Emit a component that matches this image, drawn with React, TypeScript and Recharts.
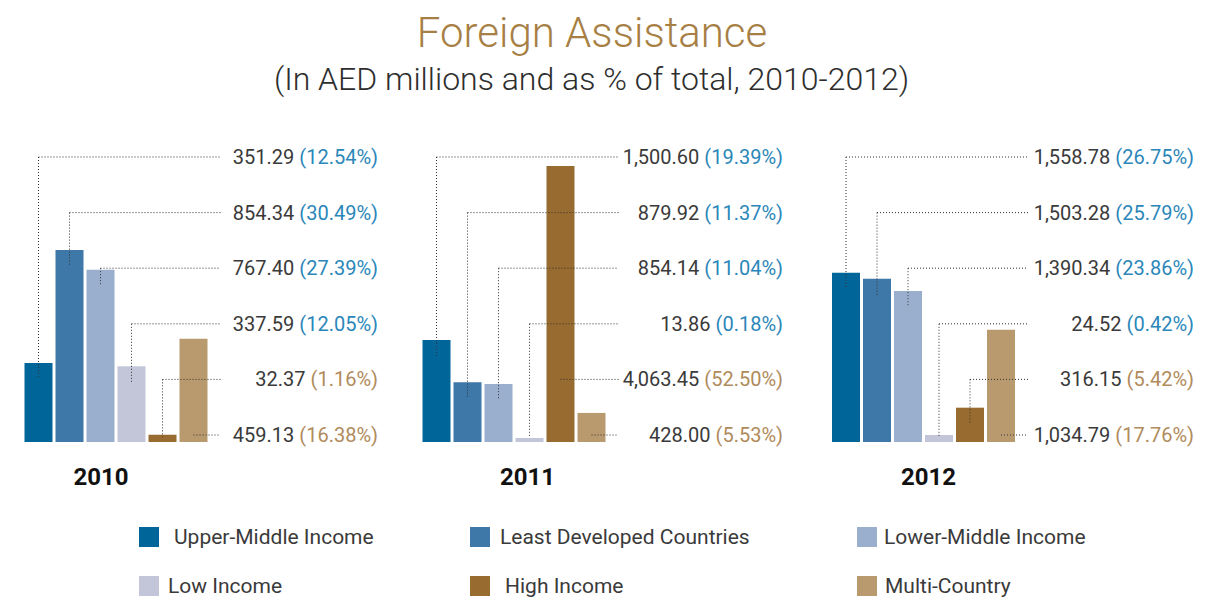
import React from 'react'
import { BarChart, Bar, XAxis, YAxis, Cell, LabelList } from 'recharts'

// categories, left-to-right bar order (same order as the labels top-to-bottom)
const categories = [
  'Upper-Middle Income',
  'Least Developed Countries',
  'Lower-Middle Income',
  'Low Income',
  'High Income',
  'Multi-Country',
]

const barColors = ['#006699', '#3d78a8', '#9aafce', '#c3c6d8', '#986c30', '#b89a6e']
const shareColors = ['#2b87b9', '#2b87b9', '#2b87b9', '#2b87b9', '#b08b5c', '#b08b5c']

const years = ['2010', '2011', '2012']

// AED millions
const values2010 = [351.29, 854.34, 767.4, 337.59, 32.37, 459.13]
const values2011 = [1500.6, 879.92, 854.14, 13.86, 4063.45, 428.0]
const values2012 = [1558.78, 1503.28, 1390.34, 24.52, 316.15, 1034.79]

// % of total
const shares2010 = [12.54, 30.49, 27.39, 12.05, 1.16, 16.38]
const shares2011 = [19.39, 11.37, 11.04, 0.18, 52.5, 5.53]
const shares2012 = [26.75, 25.79, 23.86, 0.42, 5.42, 17.76]

// each year has its own scale in the original
const axisMax = [1300, 4300, 2690]

const FONT = 'Roboto, "Noto Sans", sans-serif'
const TEXT = '#3a3a3a'

const CHART_TOP = 130
const CHART_H = 320
const PLOT_TOP = 20
const PLOT_H = 292
const PLOT_W = 186
const ROW0 = 27
const ROW_STEP = 55.6

const fmt = (v: number) =>
  v.toLocaleString('en-US', { minimumFractionDigits: 2, maximumFractionDigits: 2 })

type PanelProps = {
  values: number[]
  shares: number[]
  max: number
  left: number
  plotLeft: number
  textRight: number
  minBar: number
}

function Panel({ values, shares, max, left, plotLeft, textRight, minBar }: PanelProps) {
  const data = categories.map((name, i) => ({ name, value: values[i], share: shares[i] }))
  const width = 400
  const lineEnd = plotLeft + PLOT_W + 12
  const baseline = PLOT_TOP + PLOT_H

  const Leader = (props: any) => {
    const i = props.index
    const vb = props.viewBox || props
    const top = Math.min(vb.y, vb.y + vb.height)
    const cx = vb.x + vb.width / 2
    const rowY = ROW0 + i * ROW_STEP
    const horizontalOnly = rowY > top + 5
    const dropEnd = Math.min(top + 16, baseline - 5)
    return (
      <g>
        {!horizontalOnly && (
          <line x1={cx} y1={rowY} x2={cx} y2={dropEnd} stroke="#333" strokeWidth={1} strokeDasharray="1 2" />
        )}
        <line x1={cx} y1={rowY} x2={lineEnd} y2={rowY} stroke="#333" strokeWidth={1} strokeDasharray="1 2" />
        <text x={textRight} y={rowY + 7} textAnchor="end" fontFamily={FONT} fontSize={20} fill={TEXT}>
          {fmt(data[i].value)}
          <tspan fill={shareColors[i]}>{` (${data[i].share.toFixed(2)}%)`}</tspan>
        </text>
      </g>
    )
  }

  return (
    <div style={{ position: 'absolute', left, top: CHART_TOP }}>
      <BarChart
        width={width}
        height={CHART_H}
        data={data}
        margin={{ top: PLOT_TOP, bottom: CHART_H - PLOT_TOP - PLOT_H, left: plotLeft, right: width - plotLeft - PLOT_W }}
      >
        <XAxis dataKey="name" hide />
        <YAxis hide domain={[0, max]} />
        <Bar dataKey="value" barSize={28} minPointSize={minBar} isAnimationActive={false}>
          {data.map((d, i) => (
            <Cell key={d.name} fill={barColors[i]} />
          ))}
          <LabelList dataKey="value" content={Leader} />
        </Bar>
      </BarChart>
    </div>
  )
}

const legendX = [139, 470, 857]
const legendGap = [15, 10, 7, 9, 15, 8]

export default function App() {
  const panels = [
    { values: values2010, shares: shares2010, left: 0, plotLeft: 22.5, textRight: 378, minBar: 0, yearX: 101 },
    { values: values2011, shares: shares2011, left: 400, plotLeft: 20.5, textRight: 383, minBar: 4, yearX: 527.5 },
    { values: values2012, shares: shares2012, left: 805, plotLeft: 25, textRight: 389, minBar: 7, yearX: 928.5 },
  ]

  return (
    <div
      style={{
        position: 'absolute',
        left: 0,
        top: 0,
        width: 1205,
        height: 597,
        overflow: 'hidden',
        background: '#fff',
        fontFamily: FONT,
      }}
    >
      <div style={{ position: 'absolute', top: 9, width: 1184, textAlign: 'center', fontSize: 42, fontWeight: 300, color: '#a77f45', lineHeight: '48px' }}>
        Foreign Assistance
      </div>
      <div style={{ position: 'absolute', top: 59, width: 1183, textAlign: 'center', fontSize: 32, fontWeight: 300, color: '#2e2e2e', lineHeight: '40px' }}>
        (In AED millions and as % of total, 2010-2012)
      </div>

      {panels.map((p, k) => (
        <React.Fragment key={years[k]}>
          <Panel {...p} max={axisMax[k]} />
          <div
            style={{
              position: 'absolute',
              left: p.yearX - 60,
              width: 120,
              top: 462,
              textAlign: 'center',
              fontSize: 24,
              fontWeight: 700,
              color: '#111',
              lineHeight: '30px',
            }}
          >
            {years[k]}
          </div>
        </React.Fragment>
      ))}

      {categories.map((c, i) => {
        const col = i % 3
        const row = Math.floor(i / 3)
        const top = 527 + row * 49
        return (
          <div key={c} style={{ position: 'absolute', left: legendX[col], top, display: 'flex', alignItems: 'center' }}>
            <div style={{ width: 20, height: 20, background: barColors[i] }} />
            <span style={{ marginLeft: legendGap[i], fontSize: 21, color: TEXT, lineHeight: '20px', whiteSpace: 'nowrap' }}>{c}</span>
          </div>
        )
      })}
    </div>
  )
}
